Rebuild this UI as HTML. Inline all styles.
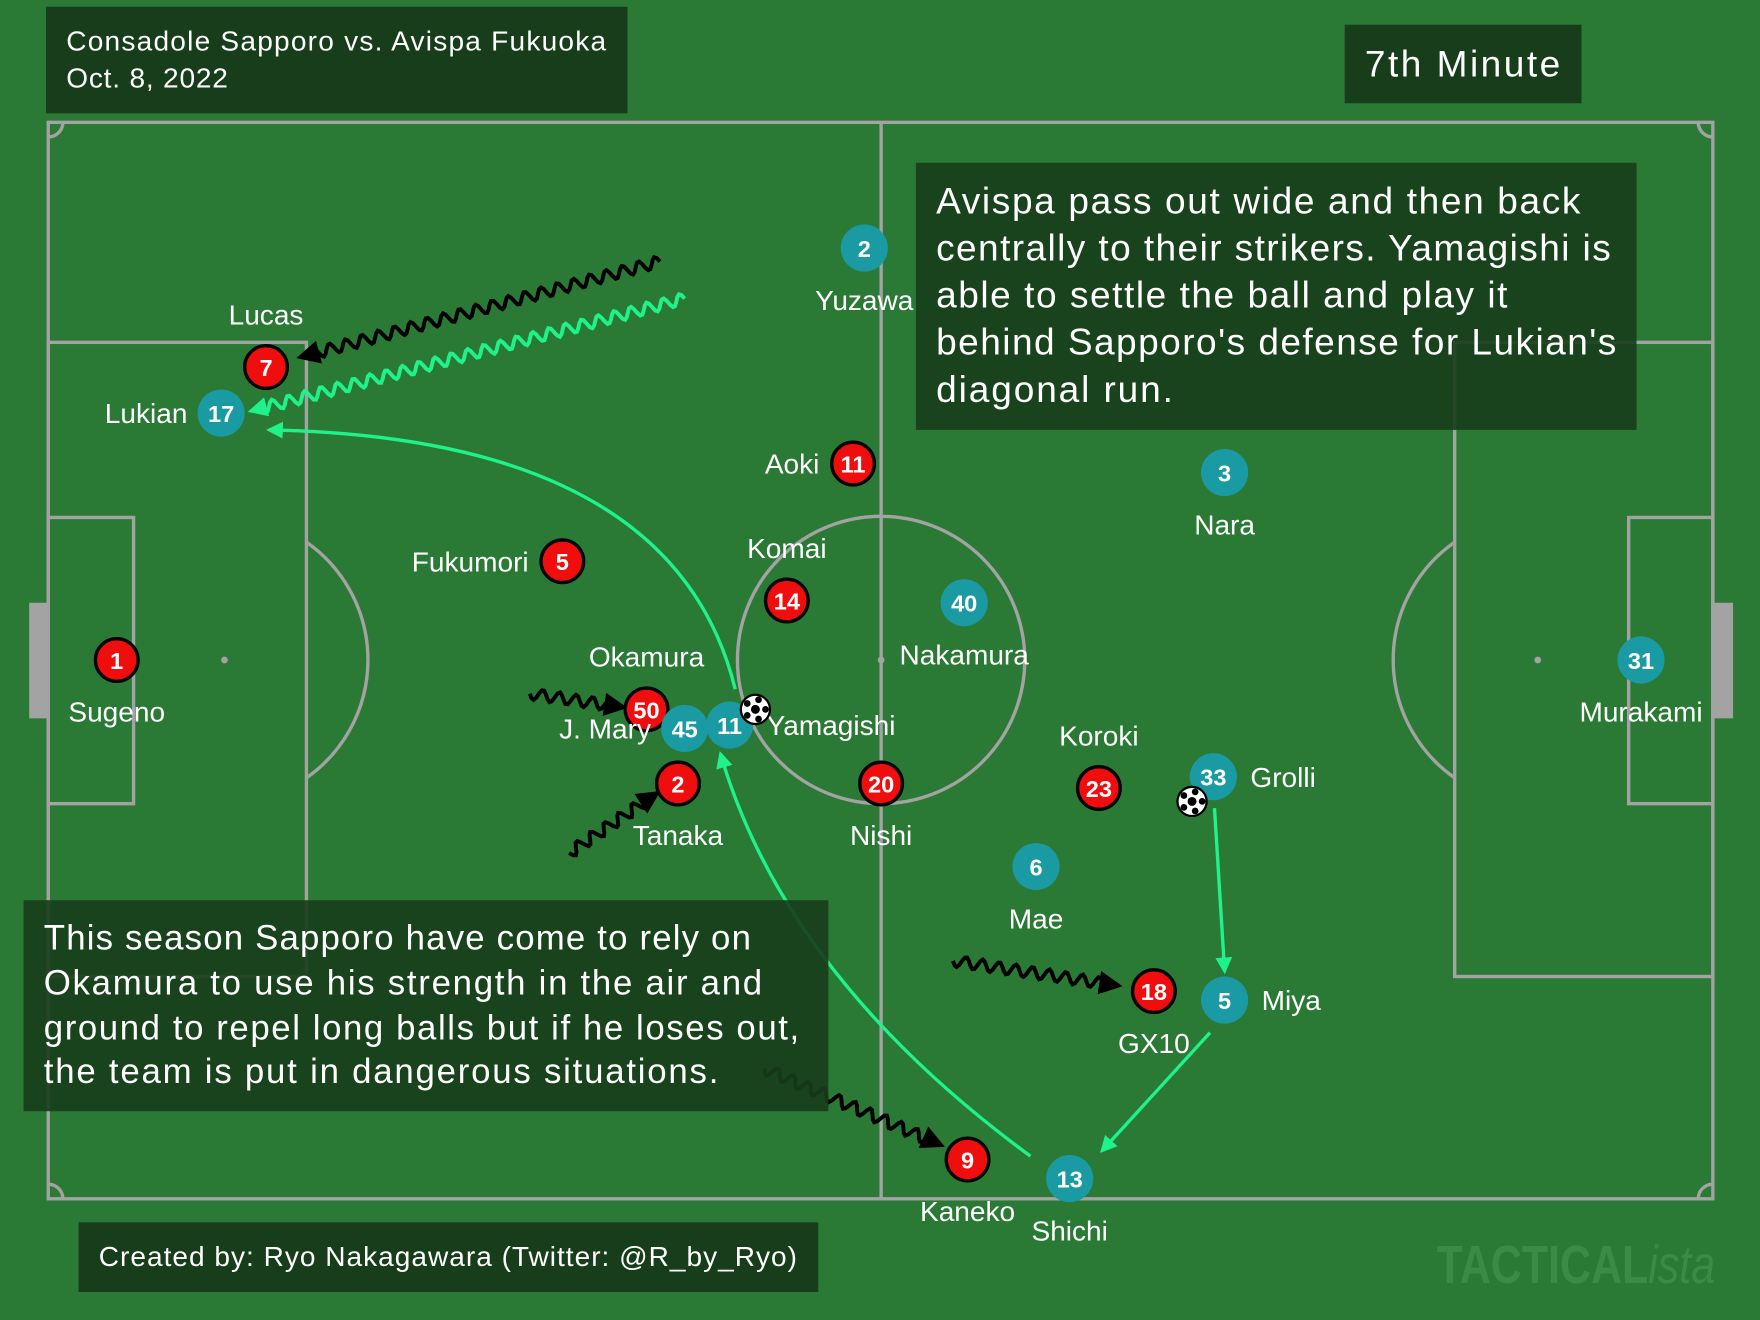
<!DOCTYPE html>
<html><head><meta charset="utf-8"><style>
html,body{margin:0;padding:0;background:#2a7a35;}
svg{display:block;font-family:"Liberation Sans",sans-serif;}
</style></head><body>
<svg id="s" width="1760" height="1320" viewBox="0 0 1568 1176" xmlns="http://www.w3.org/2000/svg">
<defs>
<marker id="ag" viewBox="0 0 10 10" refX="8" refY="5" markerWidth="5" markerHeight="5" orient="auto"><path d="M0,0L10,5L0,10z" fill="#1ff28a"/></marker>
<marker id="ab" viewBox="0 0 10 10" refX="8" refY="5" markerWidth="6" markerHeight="6" orient="auto"><path d="M0,0L10,5L0,10z" fill="#000"/></marker>
</defs>
<rect width="1568" height="1176" fill="#2a7a35"/>
<g stroke="#a3a3a3" stroke-width="3" fill="none">
<rect x="43" y="109" width="1483" height="959"/>
<line x1="785" y1="109" x2="785" y2="1068"/>
<circle cx="785" cy="588" r="128"/>
<rect x="43" y="305" width="230" height="565"/>
<rect x="43" y="461" width="76" height="255"/>
<rect x="1296" y="305" width="230" height="565"/>
<rect x="1451" y="461" width="75" height="255"/>
<path d="M273,483 A128,128 0 0 1 273,693"/>
<path d="M1296,483 A128,128 0 0 0 1296,693"/>
<path d="M43,122 A13,13 0 0 0 56,109"/><path d="M1513,109 A13,13 0 0 0 1526,122"/>
<path d="M43,1055 A13,13 0 0 1 56,1068"/><path d="M1526,1055 A13,13 0 0 0 1513,1068"/>
</g>
<circle cx="200" cy="588" r="3" fill="#a3a3a3"/><circle cx="1370" cy="588" r="3" fill="#a3a3a3"/><circle cx="785" cy="588" r="3" fill="#a3a3a3"/>
<rect x="26" y="537" width="17" height="103" fill="#a3a3a3"/>
<rect x="1526" y="537" width="18" height="103" fill="#a3a3a3"/>
<g id="moves"></g>
<g id="players"></g>
<g><rect x="41" y="6" width="518" height="95" fill="#173d1b"/>
<text x="59" y="45" fill="#fff" font-size="25" textLength="481" lengthAdjust="spacing">Consadole Sapporo vs. Avispa Fukuoka</text>
<text x="59" y="78" fill="#fff" font-size="25" textLength="144" lengthAdjust="spacing">Oct. 8, 2022</text></g>
<g><rect x="1198" y="22" width="211" height="70" fill="#173d1b"/>
<text x="1216" y="68" fill="#fff" font-size="33" textLength="174" lengthAdjust="spacing">7th Minute</text></g>
<g><rect x="816" y="145" width="642" height="238" fill="#173d1b" opacity="0.9"/>
<g fill="#fff" font-size="33" lengthAdjust="spacing"><text x="834" y="190" textLength="574">Avispa pass out wide and then back</text><text x="834" y="232" textLength="601">centrally to their strikers. Yamagishi is</text><text x="834" y="274" textLength="509">able to settle the ball and play it</text><text x="834" y="316" textLength="606">behind Sapporo's defense for Lukian's</text><text x="834" y="358" textLength="211">diagonal run.</text></g></g>
<g><rect x="21" y="802" width="717" height="188" fill="#173d1b" opacity="0.9"/>
<g fill="#fff" font-size="31"><text x="39" y="846" textLength="630">This season Sapporo have come to rely on</text><text x="39" y="886" textLength="640">Okamura to use his strength in the air and</text><text x="39" y="926" textLength="673">ground to repel long balls but if he loses out,</text><text x="39" y="965" textLength="601">the team is put in dangerous situations.</text></g></g>
<g><rect x="70" y="1089" width="659" height="62" fill="#173d1b"/>
<text x="88" y="1128" fill="#fff" font-size="25" textLength="622">Created by: Ryo Nakagawara (Twitter: @R_by_Ryo)</text></g>
<text x="1280" y="1143" fill="#3b8a45" font-size="48" font-weight="bold" textLength="248" lengthAdjust="spacingAndGlyphs">TACTICAL<tspan font-style="italic" font-weight="normal">ista</tspan></text>
</svg>
<script>
const names=["Sugeno","Lucas","Fukumori","Aoki","Komai","Okamura","Tanaka","Nishi","Koroki","GX10","Kaneko","Yuzawa","Lukian","Nara","Nakamura","Murakami","J. Mary","Yamagishi","Grolli","Mae","Miya","Shichi"];
const numbers=[1,7,5,11,14,50,2,20,23,18,9,2,17,3,40,31,45,11,33,6,5,13];
const teams=["r","r","r","r","r","r","r","r","r","r","r","t","t","t","t","t","t","t","t","t","t","t"];
const px=[104,237,501,760,701,576,604,785,979,1028,862,770,197,1091,859,1462,610,650,1081,923,1091,953];
const py=[588,327,500,413,535,632,698,698,702,883,1033,221,368,421,537,588,649,646,692,772,891,1050];
const labelSide=["b","a","l","l","a","a","b","b","a","b","b","b","l","b","b","b","l","r","r","b","r","b"];
const NS="http://www.w3.org/2000/svg";
function el(t,a,p){const e=document.createElementNS(NS,t);for(const k in a)e.setAttribute(k,a[k]);p.appendChild(e);return e;}
const mv=document.getElementById('moves');
function wavy(x1,y1,x2,y2,col){const dx=x2-x1,dy=y2-y1,L=Math.hypot(dx,dy),ux=dx/L,uy=dy/L,nx=-uy,ny=ux;let d="";const n=Math.floor(L/2);for(let i=0;i<=n;i++){const s=i*L/n;const o=(s<L-12)?5*Math.sin(s/15*2*Math.PI):0;d+=(i?"L":"M")+(x1+ux*s+nx*o).toFixed(1)+","+(y1+uy*s+ny*o).toFixed(1);}
const p=el('path',{d:d,stroke:col,'stroke-width':3.5,fill:'none','marker-end':col=="#000"?'url(#ab)':'url(#ag)'},mv);

}
wavy(588,233,268,318,"#000");wavy(610,266,224,366,"#1ff28a");wavy(472,618,555,630,"#000");wavy(507,760,585,707,"#000");wavy(849,856,996,878,"#000");wavy(681,952,838,1020,"#000");
function pass(d){const p=el('path',{d:d,stroke:'#1ff28a','stroke-width':3,fill:'none','marker-end':'url(#ag)'},mv);

}
pass("M655,614 Q600,390 240,383");pass("M918,1030 Q700,870 642,672");pass("M1082,720 L1091,865");pass("M1078,920 L982,1025");
const pg=document.getElementById('players');
for(let i=0;i<names.length;i++){const g=el('g',{},pg);


const x=px[i],y=py[i],red=teams[i]=="r";
el('circle',{cx:x,cy:y,r:red?19:21,fill:red?'#f00d0d':'#1a9aa2',stroke:red?'#000':'none','stroke-width':3},g);
const t=el('text',{x:x,y:y+8,fill:'#fff','font-size':21,'font-weight':'bold','text-anchor':'middle'},g);t.textContent=numbers[i];
let lx=x,ly=y,an='middle';const s=labelSide[i];
if(s=="b")ly=y+55;else if(s=="a")ly=y-38;else if(s=="l"){lx=x-30;ly=y+9;an='end';}else{lx=x+33;ly=y+9;an='start';}
const l=el('text',{x:lx,y:ly,fill:'#fff','font-size':25,'text-anchor':an},g);l.textContent=names[i];}
function ball(x,y){const g=el('g',{},pg);


el('circle',{cx:x,cy:y,r:13,fill:'#fff',stroke:'#000','stroke-width':2},g);el('circle',{cx:x,cy:y,r:4,fill:'#000'},g);
for(let k=0;k<5;k++){const a=k*72*Math.PI/180;el('circle',{cx:x+9*Math.cos(a),cy:y+9*Math.sin(a),r:3,fill:'#000'},g);}}
ball(673,632);ball(1062,714);
</script>
</body></html>
